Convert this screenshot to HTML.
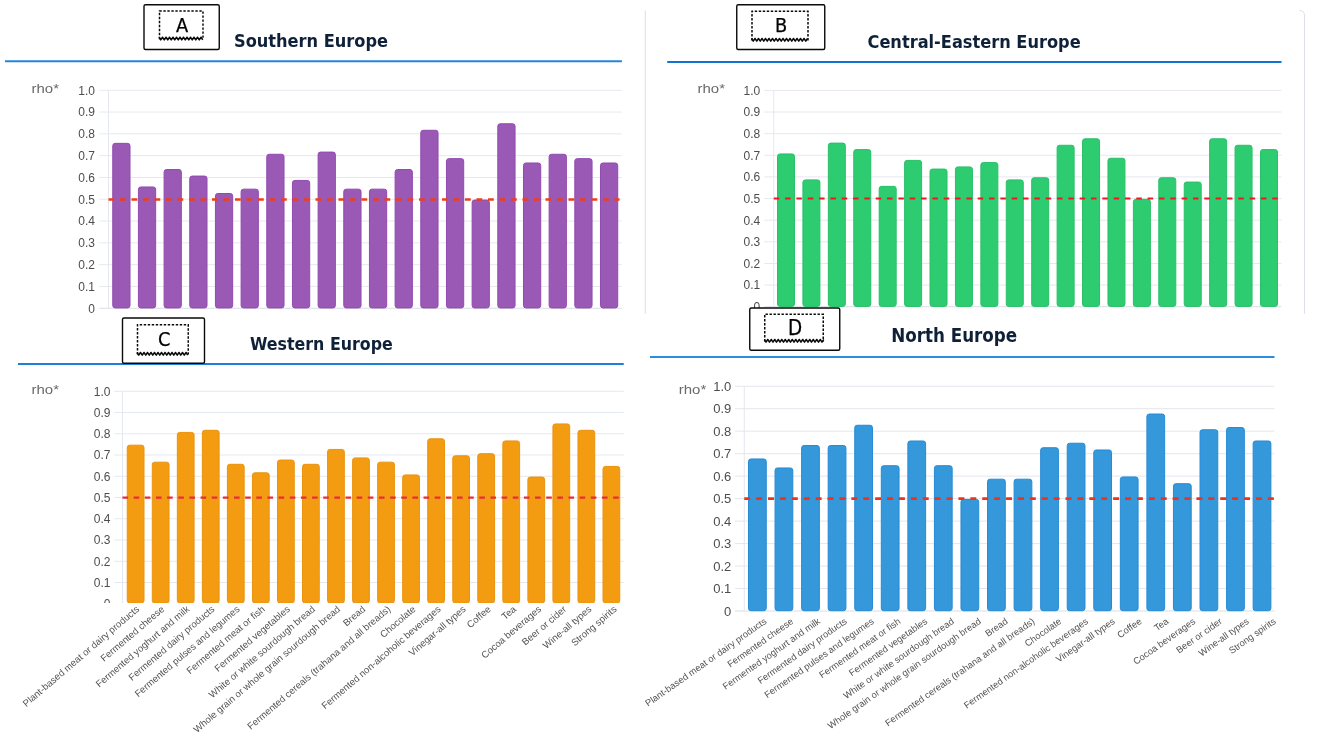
<!DOCTYPE html>
<html lang="en">
<head>
<meta charset="utf-8">
<title>Fermented foods rho* by European region</title>
<style>
html,body{margin:0;padding:0;background:#fff;}
body{width:1325px;height:736px;overflow:hidden;position:relative;}
svg{position:absolute;left:0;top:0;display:block;}
text{font-family:"Liberation Sans", Arial, Helvetica, sans-serif;}
.yl{fill:#4d4d4d;}
.xl{fill:#525252;}
.rho{fill:#6a6a6a;}
.tt{fill:#0f2138;font-weight:bold;font-family:"DejaVu Sans Condensed", "DejaVu Sans", "Liberation Sans", sans-serif;font-stretch:condensed;}
.bx{fill:#000;font-family:"DejaVu Sans Condensed", "DejaVu Sans", "Liberation Sans", sans-serif;font-stretch:condensed;}
</style>
</head>
<body>
<svg width="1325" height="736" viewBox="0 0 1325 736">
<rect x="0" y="0" width="1325" height="736" fill="#ffffff"/>
<path d="M645.25 10.5V313.75" stroke="#dadde6" stroke-width="1" fill="none"/>
<path d="M1299.5 10.5Q1304.5 10.5 1304.5 16V313.75" stroke="#dde0e8" stroke-width="1" fill="none"/>
<g id="chart-A">
<line x1="99.25" x2="621.75" y1="308.25" y2="308.25" stroke="#d9dde3" stroke-width="1"/>
<line x1="99.25" x2="621.75" y1="286.45" y2="286.45" stroke="#e5e9ee" stroke-width="1"/>
<line x1="99.25" x2="621.75" y1="264.65" y2="264.65" stroke="#e5e9ee" stroke-width="1"/>
<line x1="99.25" x2="621.75" y1="242.85" y2="242.85" stroke="#e5e9ee" stroke-width="1"/>
<line x1="99.25" x2="621.75" y1="221.05" y2="221.05" stroke="#e5e9ee" stroke-width="1"/>
<line x1="99.25" x2="621.75" y1="199.25" y2="199.25" stroke="#e5e9ee" stroke-width="1"/>
<line x1="99.25" x2="621.75" y1="177.45" y2="177.45" stroke="#e5e9ee" stroke-width="1"/>
<line x1="99.25" x2="621.75" y1="155.65" y2="155.65" stroke="#e5e9ee" stroke-width="1"/>
<line x1="99.25" x2="621.75" y1="133.85" y2="133.85" stroke="#e5e9ee" stroke-width="1"/>
<line x1="99.25" x2="621.75" y1="112.05" y2="112.05" stroke="#e5e9ee" stroke-width="1"/>
<line x1="99.25" x2="621.75" y1="90.25" y2="90.25" stroke="#e5e9ee" stroke-width="1"/>
<line x1="108.5" x2="108.5" y1="90.25" y2="308.25" stroke="#e5e9ee" stroke-width="1"/>
<text class="yl" x="95" y="312.57" font-size="12" text-anchor="end">0</text>
<text class="yl" x="95" y="290.77" font-size="12" text-anchor="end">0.1</text>
<text class="yl" x="95" y="268.97" font-size="12" text-anchor="end">0.2</text>
<text class="yl" x="95" y="247.17" font-size="12" text-anchor="end">0.3</text>
<text class="yl" x="95" y="225.37" font-size="12" text-anchor="end">0.4</text>
<text class="yl" x="95" y="203.57" font-size="12" text-anchor="end">0.5</text>
<text class="yl" x="95" y="181.77" font-size="12" text-anchor="end">0.6</text>
<text class="yl" x="95" y="159.97" font-size="12" text-anchor="end">0.7</text>
<text class="yl" x="95" y="138.17" font-size="12" text-anchor="end">0.8</text>
<text class="yl" x="95" y="116.37" font-size="12" text-anchor="end">0.9</text>
<text class="yl" x="95" y="94.57" font-size="12" text-anchor="end">1.0</text>
<rect x="112.75" y="143.37" width="17.25" height="164.58" rx="2.4" fill="#9b59b6" stroke="#904ab0" stroke-width="1"/>
<rect x="138.42" y="186.97" width="17.25" height="120.98" rx="2.4" fill="#9b59b6" stroke="#904ab0" stroke-width="1"/>
<rect x="164.09" y="169.53" width="17.25" height="138.42" rx="2.4" fill="#9b59b6" stroke="#904ab0" stroke-width="1"/>
<rect x="189.76" y="176.07" width="17.25" height="131.88" rx="2.4" fill="#9b59b6" stroke="#904ab0" stroke-width="1"/>
<rect x="215.43" y="193.51" width="17.25" height="114.44" rx="2.4" fill="#9b59b6" stroke="#904ab0" stroke-width="1"/>
<rect x="241.1" y="189.15" width="17.25" height="118.8" rx="2.4" fill="#9b59b6" stroke="#904ab0" stroke-width="1"/>
<rect x="266.77" y="154.27" width="17.25" height="153.68" rx="2.4" fill="#9b59b6" stroke="#904ab0" stroke-width="1"/>
<rect x="292.44" y="180.43" width="17.25" height="127.52" rx="2.4" fill="#9b59b6" stroke="#904ab0" stroke-width="1"/>
<rect x="318.11" y="152.09" width="17.25" height="155.86" rx="2.4" fill="#9b59b6" stroke="#904ab0" stroke-width="1"/>
<rect x="343.78" y="189.15" width="17.25" height="118.8" rx="2.4" fill="#9b59b6" stroke="#904ab0" stroke-width="1"/>
<rect x="369.45" y="189.15" width="17.25" height="118.8" rx="2.4" fill="#9b59b6" stroke="#904ab0" stroke-width="1"/>
<rect x="395.12" y="169.53" width="17.25" height="138.42" rx="2.4" fill="#9b59b6" stroke="#904ab0" stroke-width="1"/>
<rect x="420.79" y="130.29" width="17.25" height="177.66" rx="2.4" fill="#9b59b6" stroke="#904ab0" stroke-width="1"/>
<rect x="446.46" y="158.63" width="17.25" height="149.32" rx="2.4" fill="#9b59b6" stroke="#904ab0" stroke-width="1"/>
<rect x="472.13" y="200.05" width="17.25" height="107.9" rx="2.4" fill="#9b59b6" stroke="#904ab0" stroke-width="1"/>
<rect x="497.8" y="123.75" width="17.25" height="184.2" rx="2.4" fill="#9b59b6" stroke="#904ab0" stroke-width="1"/>
<rect x="523.47" y="162.99" width="17.25" height="144.96" rx="2.4" fill="#9b59b6" stroke="#904ab0" stroke-width="1"/>
<rect x="549.14" y="154.27" width="17.25" height="153.68" rx="2.4" fill="#9b59b6" stroke="#904ab0" stroke-width="1"/>
<rect x="574.81" y="158.63" width="17.25" height="149.32" rx="2.4" fill="#9b59b6" stroke="#904ab0" stroke-width="1"/>
<rect x="600.48" y="162.99" width="17.25" height="144.96" rx="2.4" fill="#9b59b6" stroke="#904ab0" stroke-width="1"/>
<line x1="108.5" x2="619.5" y1="199.5" y2="199.5" stroke="#ee3f17" stroke-width="2.4" stroke-dasharray="5.75 5.75"/>
<text class="rho" x="31.5" y="93.2" font-size="13" textLength="27.5" lengthAdjust="spacingAndGlyphs">rho*</text>
</g>
<g id="chart-B">
<line x1="764.4" x2="1281.5" y1="306.7" y2="306.7" stroke="#d9dde3" stroke-width="1"/>
<line x1="764.4" x2="1281.5" y1="285.07" y2="285.07" stroke="#e6e8f0" stroke-width="1"/>
<line x1="764.4" x2="1281.5" y1="263.44" y2="263.44" stroke="#e6e8f0" stroke-width="1"/>
<line x1="764.4" x2="1281.5" y1="241.81" y2="241.81" stroke="#e6e8f0" stroke-width="1"/>
<line x1="764.4" x2="1281.5" y1="220.18" y2="220.18" stroke="#e6e8f0" stroke-width="1"/>
<line x1="764.4" x2="1281.5" y1="198.55" y2="198.55" stroke="#e6e8f0" stroke-width="1"/>
<line x1="764.4" x2="1281.5" y1="176.92" y2="176.92" stroke="#e6e8f0" stroke-width="1"/>
<line x1="764.4" x2="1281.5" y1="155.29" y2="155.29" stroke="#e6e8f0" stroke-width="1"/>
<line x1="764.4" x2="1281.5" y1="133.66" y2="133.66" stroke="#e6e8f0" stroke-width="1"/>
<line x1="764.4" x2="1281.5" y1="112.03" y2="112.03" stroke="#e6e8f0" stroke-width="1"/>
<line x1="764.4" x2="1281.5" y1="90.4" y2="90.4" stroke="#e6e8f0" stroke-width="1"/>
<line x1="773.75" x2="773.75" y1="90.4" y2="306.7" stroke="#e6e8f0" stroke-width="1"/>
<text class="yl" x="760.2" y="311.02" font-size="12" text-anchor="end">0</text>
<text class="yl" x="760.2" y="289.39" font-size="12" text-anchor="end">0.1</text>
<text class="yl" x="760.2" y="267.76" font-size="12" text-anchor="end">0.2</text>
<text class="yl" x="760.2" y="246.13" font-size="12" text-anchor="end">0.3</text>
<text class="yl" x="760.2" y="224.5" font-size="12" text-anchor="end">0.4</text>
<text class="yl" x="760.2" y="202.87" font-size="12" text-anchor="end">0.5</text>
<text class="yl" x="760.2" y="181.24" font-size="12" text-anchor="end">0.6</text>
<text class="yl" x="760.2" y="159.61" font-size="12" text-anchor="end">0.7</text>
<text class="yl" x="760.2" y="137.98" font-size="12" text-anchor="end">0.8</text>
<text class="yl" x="760.2" y="116.35" font-size="12" text-anchor="end">0.9</text>
<text class="yl" x="760.2" y="94.72" font-size="12" text-anchor="end">1.0</text>
<rect x="777.5" y="153.93" width="17" height="152.47" rx="2.4" fill="#2ecc71" stroke="#29c068" stroke-width="1"/>
<rect x="802.92" y="179.88" width="17" height="126.52" rx="2.4" fill="#2ecc71" stroke="#29c068" stroke-width="1"/>
<rect x="828.34" y="143.11" width="17" height="163.29" rx="2.4" fill="#2ecc71" stroke="#29c068" stroke-width="1"/>
<rect x="853.76" y="149.6" width="17" height="156.8" rx="2.4" fill="#2ecc71" stroke="#29c068" stroke-width="1"/>
<rect x="879.18" y="186.37" width="17" height="120.03" rx="2.4" fill="#2ecc71" stroke="#29c068" stroke-width="1"/>
<rect x="904.6" y="160.42" width="17" height="145.98" rx="2.4" fill="#2ecc71" stroke="#29c068" stroke-width="1"/>
<rect x="930.02" y="169.07" width="17" height="137.33" rx="2.4" fill="#2ecc71" stroke="#29c068" stroke-width="1"/>
<rect x="955.44" y="166.91" width="17" height="139.49" rx="2.4" fill="#2ecc71" stroke="#29c068" stroke-width="1"/>
<rect x="980.86" y="162.58" width="17" height="143.82" rx="2.4" fill="#2ecc71" stroke="#29c068" stroke-width="1"/>
<rect x="1006.28" y="179.88" width="17" height="126.52" rx="2.4" fill="#2ecc71" stroke="#29c068" stroke-width="1"/>
<rect x="1031.7" y="177.72" width="17" height="128.68" rx="2.4" fill="#2ecc71" stroke="#29c068" stroke-width="1"/>
<rect x="1057.12" y="145.28" width="17" height="161.12" rx="2.4" fill="#2ecc71" stroke="#29c068" stroke-width="1"/>
<rect x="1082.54" y="138.79" width="17" height="167.61" rx="2.4" fill="#2ecc71" stroke="#29c068" stroke-width="1"/>
<rect x="1107.96" y="158.25" width="17" height="148.15" rx="2.4" fill="#2ecc71" stroke="#29c068" stroke-width="1"/>
<rect x="1133.38" y="199.35" width="17" height="107.05" rx="2.4" fill="#2ecc71" stroke="#29c068" stroke-width="1"/>
<rect x="1158.8" y="177.72" width="17" height="128.68" rx="2.4" fill="#2ecc71" stroke="#29c068" stroke-width="1"/>
<rect x="1184.22" y="182.05" width="17" height="124.35" rx="2.4" fill="#2ecc71" stroke="#29c068" stroke-width="1"/>
<rect x="1209.64" y="138.79" width="17" height="167.61" rx="2.4" fill="#2ecc71" stroke="#29c068" stroke-width="1"/>
<rect x="1235.06" y="145.28" width="17" height="161.12" rx="2.4" fill="#2ecc71" stroke="#29c068" stroke-width="1"/>
<rect x="1260.48" y="149.6" width="17" height="156.8" rx="2.4" fill="#2ecc71" stroke="#29c068" stroke-width="1"/>
<line x1="773.75" x2="1281.5" y1="198.4" y2="198.4" stroke="#f5161c" stroke-width="2.0" stroke-dasharray="5.5 5.83"/>
<text class="rho" x="697.5" y="93" font-size="13" textLength="27.5" lengthAdjust="spacingAndGlyphs">rho*</text>
</g>
<g id="chart-C">
<clipPath id="clipC"><rect x="0" y="0" width="1325" height="603.1"/></clipPath>
<g clip-path="url(#clipC)">
<line x1="114.25" x2="623.75" y1="603.75" y2="603.75" stroke="#d9dde3" stroke-width="1"/>
<line x1="114.25" x2="623.75" y1="582.5" y2="582.5" stroke="#e4e9f1" stroke-width="1"/>
<line x1="114.25" x2="623.75" y1="561.25" y2="561.25" stroke="#e4e9f1" stroke-width="1"/>
<line x1="114.25" x2="623.75" y1="540" y2="540" stroke="#e4e9f1" stroke-width="1"/>
<line x1="114.25" x2="623.75" y1="518.75" y2="518.75" stroke="#e4e9f1" stroke-width="1"/>
<line x1="114.25" x2="623.75" y1="497.5" y2="497.5" stroke="#e4e9f1" stroke-width="1"/>
<line x1="114.25" x2="623.75" y1="476.25" y2="476.25" stroke="#e4e9f1" stroke-width="1"/>
<line x1="114.25" x2="623.75" y1="455" y2="455" stroke="#e4e9f1" stroke-width="1"/>
<line x1="114.25" x2="623.75" y1="433.75" y2="433.75" stroke="#e4e9f1" stroke-width="1"/>
<line x1="114.25" x2="623.75" y1="412.5" y2="412.5" stroke="#e4e9f1" stroke-width="1"/>
<line x1="114.25" x2="623.75" y1="391.25" y2="391.25" stroke="#e4e9f1" stroke-width="1"/>
<line x1="122.5" x2="122.5" y1="391.25" y2="603.75" stroke="#e4e9f1" stroke-width="1"/>
<text class="yl" x="110.5" y="608.07" font-size="12" text-anchor="end">0</text>
<text class="yl" x="110.5" y="586.82" font-size="12" text-anchor="end">0.1</text>
<text class="yl" x="110.5" y="565.57" font-size="12" text-anchor="end">0.2</text>
<text class="yl" x="110.5" y="544.32" font-size="12" text-anchor="end">0.3</text>
<text class="yl" x="110.5" y="523.07" font-size="12" text-anchor="end">0.4</text>
<text class="yl" x="110.5" y="501.82" font-size="12" text-anchor="end">0.5</text>
<text class="yl" x="110.5" y="480.57" font-size="12" text-anchor="end">0.6</text>
<text class="yl" x="110.5" y="459.32" font-size="12" text-anchor="end">0.7</text>
<text class="yl" x="110.5" y="438.07" font-size="12" text-anchor="end">0.8</text>
<text class="yl" x="110.5" y="416.82" font-size="12" text-anchor="end">0.9</text>
<text class="yl" x="110.5" y="395.57" font-size="12" text-anchor="end">1.0</text>
<rect x="127.25" y="445.18" width="16.75" height="157.82" rx="2.4" fill="#f39c12" stroke="#ea930e" stroke-width="1"/>
<rect x="152.29" y="462.18" width="16.75" height="140.82" rx="2.4" fill="#f39c12" stroke="#ea930e" stroke-width="1"/>
<rect x="177.33" y="432.43" width="16.75" height="170.57" rx="2.4" fill="#f39c12" stroke="#ea930e" stroke-width="1"/>
<rect x="202.37" y="430.3" width="16.75" height="172.7" rx="2.4" fill="#f39c12" stroke="#ea930e" stroke-width="1"/>
<rect x="227.41" y="464.3" width="16.75" height="138.7" rx="2.4" fill="#f39c12" stroke="#ea930e" stroke-width="1"/>
<rect x="252.45" y="472.8" width="16.75" height="130.2" rx="2.4" fill="#f39c12" stroke="#ea930e" stroke-width="1"/>
<rect x="277.49" y="460.05" width="16.75" height="142.95" rx="2.4" fill="#f39c12" stroke="#ea930e" stroke-width="1"/>
<rect x="302.53" y="464.3" width="16.75" height="138.7" rx="2.4" fill="#f39c12" stroke="#ea930e" stroke-width="1"/>
<rect x="327.57" y="449.43" width="16.75" height="153.57" rx="2.4" fill="#f39c12" stroke="#ea930e" stroke-width="1"/>
<rect x="352.61" y="457.93" width="16.75" height="145.07" rx="2.4" fill="#f39c12" stroke="#ea930e" stroke-width="1"/>
<rect x="377.65" y="462.18" width="16.75" height="140.82" rx="2.4" fill="#f39c12" stroke="#ea930e" stroke-width="1"/>
<rect x="402.69" y="474.93" width="16.75" height="128.07" rx="2.4" fill="#f39c12" stroke="#ea930e" stroke-width="1"/>
<rect x="427.73" y="438.8" width="16.75" height="164.2" rx="2.4" fill="#f39c12" stroke="#ea930e" stroke-width="1"/>
<rect x="452.77" y="455.8" width="16.75" height="147.2" rx="2.4" fill="#f39c12" stroke="#ea930e" stroke-width="1"/>
<rect x="477.81" y="453.68" width="16.75" height="149.32" rx="2.4" fill="#f39c12" stroke="#ea930e" stroke-width="1"/>
<rect x="502.85" y="440.93" width="16.75" height="162.07" rx="2.4" fill="#f39c12" stroke="#ea930e" stroke-width="1"/>
<rect x="527.89" y="477.05" width="16.75" height="125.95" rx="2.4" fill="#f39c12" stroke="#ea930e" stroke-width="1"/>
<rect x="552.93" y="423.93" width="16.75" height="179.07" rx="2.4" fill="#f39c12" stroke="#ea930e" stroke-width="1"/>
<rect x="577.97" y="430.3" width="16.75" height="172.7" rx="2.4" fill="#f39c12" stroke="#ea930e" stroke-width="1"/>
<rect x="603.01" y="466.43" width="16.75" height="136.57" rx="2.4" fill="#f39c12" stroke="#ea930e" stroke-width="1"/>
<line x1="122.5" x2="623.75" y1="497.6" y2="497.6" stroke="#e72c3c" stroke-width="2.4" stroke-dasharray="5.6 5.55"/>
</g>
<text class="rho" x="31.5" y="394.25" font-size="13" textLength="27.5" lengthAdjust="spacingAndGlyphs">rho*</text>
<text class="xl" font-size="9.6" text-anchor="end" transform="translate(137.62 607.6) rotate(-40.5)" dy="0.35em">Plant-based meat or dairy products</text>
<text class="xl" font-size="9.6" text-anchor="end" transform="translate(162.75 607.6) rotate(-40.5)" dy="0.35em">Fermented cheese</text>
<text class="xl" font-size="9.6" text-anchor="end" transform="translate(187.88 607.6) rotate(-40.5)" dy="0.35em">Fermented yoghurt and milk</text>
<text class="xl" font-size="9.6" text-anchor="end" transform="translate(213.01 607.6) rotate(-40.5)" dy="0.35em">Fermented dairy products</text>
<text class="xl" font-size="9.6" text-anchor="end" transform="translate(238.14 607.6) rotate(-40.5)" dy="0.35em">Fermented pulses and legumes</text>
<text class="xl" font-size="9.6" text-anchor="end" transform="translate(263.27 607.6) rotate(-40.5)" dy="0.35em">Fermented meat or fish</text>
<text class="xl" font-size="9.6" text-anchor="end" transform="translate(288.4 607.6) rotate(-40.5)" dy="0.35em">Fermented vegetables</text>
<text class="xl" font-size="9.6" text-anchor="end" transform="translate(313.53 607.6) rotate(-40.5)" dy="0.35em">White or white sourdough bread</text>
<text class="xl" font-size="9.6" text-anchor="end" transform="translate(338.66 607.6) rotate(-40.5)" dy="0.35em">Whole grain or whole grain sourdough bread</text>
<text class="xl" font-size="9.6" text-anchor="end" transform="translate(363.79 607.6) rotate(-40.5)" dy="0.35em">Bread</text>
<text class="xl" font-size="9.6" text-anchor="end" transform="translate(388.92 607.6) rotate(-40.5)" dy="0.35em">Fermented cereals (trahana and all breads)</text>
<text class="xl" font-size="9.6" text-anchor="end" transform="translate(414.06 607.6) rotate(-40.5)" dy="0.35em">Chocolate</text>
<text class="xl" font-size="9.6" text-anchor="end" transform="translate(439.19 607.6) rotate(-40.5)" dy="0.35em">Fermented non-alcoholic beverages</text>
<text class="xl" font-size="9.6" text-anchor="end" transform="translate(464.31 607.6) rotate(-40.5)" dy="0.35em">Vinegar-all types</text>
<text class="xl" font-size="9.6" text-anchor="end" transform="translate(489.44 607.6) rotate(-40.5)" dy="0.35em">Coffee</text>
<text class="xl" font-size="9.6" text-anchor="end" transform="translate(514.58 607.6) rotate(-40.5)" dy="0.35em">Tea</text>
<text class="xl" font-size="9.6" text-anchor="end" transform="translate(539.7 607.6) rotate(-40.5)" dy="0.35em">Cocoa beverages</text>
<text class="xl" font-size="9.6" text-anchor="end" transform="translate(564.84 607.6) rotate(-40.5)" dy="0.35em">Beer or cider</text>
<text class="xl" font-size="9.6" text-anchor="end" transform="translate(589.96 607.6) rotate(-40.5)" dy="0.35em">Wine-all types</text>
<text class="xl" font-size="9.6" text-anchor="end" transform="translate(615.1 607.6) rotate(-40.5)" dy="0.35em">Strong spirits</text>
</g>
<g id="chart-D">
<line x1="735" x2="1274.5" y1="611" y2="611" stroke="#d9dde3" stroke-width="1"/>
<line x1="735" x2="1274.5" y1="588.52" y2="588.52" stroke="#e3e6ee" stroke-width="1"/>
<line x1="735" x2="1274.5" y1="566.05" y2="566.05" stroke="#e3e6ee" stroke-width="1"/>
<line x1="735" x2="1274.5" y1="543.58" y2="543.58" stroke="#e3e6ee" stroke-width="1"/>
<line x1="735" x2="1274.5" y1="521.1" y2="521.1" stroke="#e3e6ee" stroke-width="1"/>
<line x1="735" x2="1274.5" y1="498.62" y2="498.62" stroke="#e3e6ee" stroke-width="1"/>
<line x1="735" x2="1274.5" y1="476.15" y2="476.15" stroke="#e3e6ee" stroke-width="1"/>
<line x1="735" x2="1274.5" y1="453.68" y2="453.68" stroke="#e3e6ee" stroke-width="1"/>
<line x1="735" x2="1274.5" y1="431.2" y2="431.2" stroke="#e3e6ee" stroke-width="1"/>
<line x1="735" x2="1274.5" y1="408.73" y2="408.73" stroke="#e3e6ee" stroke-width="1"/>
<line x1="735" x2="1274.5" y1="386.25" y2="386.25" stroke="#e3e6ee" stroke-width="1"/>
<line x1="744.25" x2="744.25" y1="386.25" y2="611" stroke="#e3e6ee" stroke-width="1"/>
<text class="yl" x="731.25" y="615.68" font-size="13" text-anchor="end">0</text>
<text class="yl" x="731.25" y="593.2" font-size="13" text-anchor="end">0.1</text>
<text class="yl" x="731.25" y="570.73" font-size="13" text-anchor="end">0.2</text>
<text class="yl" x="731.25" y="548.25" font-size="13" text-anchor="end">0.3</text>
<text class="yl" x="731.25" y="525.78" font-size="13" text-anchor="end">0.4</text>
<text class="yl" x="731.25" y="503.31" font-size="13" text-anchor="end">0.5</text>
<text class="yl" x="731.25" y="480.83" font-size="13" text-anchor="end">0.6</text>
<text class="yl" x="731.25" y="458.36" font-size="13" text-anchor="end">0.7</text>
<text class="yl" x="731.25" y="435.88" font-size="13" text-anchor="end">0.8</text>
<text class="yl" x="731.25" y="413.41" font-size="13" text-anchor="end">0.9</text>
<text class="yl" x="731.25" y="390.93" font-size="13" text-anchor="end">1.0</text>
<rect x="748.5" y="458.97" width="17.75" height="151.73" rx="2.4" fill="#3498db" stroke="#258bd6" stroke-width="1"/>
<rect x="775.06" y="467.96" width="17.75" height="142.74" rx="2.4" fill="#3498db" stroke="#258bd6" stroke-width="1"/>
<rect x="801.62" y="445.49" width="17.75" height="165.22" rx="2.4" fill="#3498db" stroke="#258bd6" stroke-width="1"/>
<rect x="828.18" y="445.49" width="17.75" height="165.22" rx="2.4" fill="#3498db" stroke="#258bd6" stroke-width="1"/>
<rect x="854.74" y="425.26" width="17.75" height="185.44" rx="2.4" fill="#3498db" stroke="#258bd6" stroke-width="1"/>
<rect x="881.3" y="465.71" width="17.75" height="144.99" rx="2.4" fill="#3498db" stroke="#258bd6" stroke-width="1"/>
<rect x="907.86" y="440.99" width="17.75" height="169.71" rx="2.4" fill="#3498db" stroke="#258bd6" stroke-width="1"/>
<rect x="934.42" y="465.71" width="17.75" height="144.99" rx="2.4" fill="#3498db" stroke="#258bd6" stroke-width="1"/>
<rect x="960.98" y="499.43" width="17.75" height="111.28" rx="2.4" fill="#3498db" stroke="#258bd6" stroke-width="1"/>
<rect x="987.54" y="479.2" width="17.75" height="131.5" rx="2.4" fill="#3498db" stroke="#258bd6" stroke-width="1"/>
<rect x="1014.1" y="479.2" width="17.75" height="131.5" rx="2.4" fill="#3498db" stroke="#258bd6" stroke-width="1"/>
<rect x="1040.66" y="447.73" width="17.75" height="162.97" rx="2.4" fill="#3498db" stroke="#258bd6" stroke-width="1"/>
<rect x="1067.22" y="443.24" width="17.75" height="167.46" rx="2.4" fill="#3498db" stroke="#258bd6" stroke-width="1"/>
<rect x="1093.78" y="449.98" width="17.75" height="160.72" rx="2.4" fill="#3498db" stroke="#258bd6" stroke-width="1"/>
<rect x="1120.34" y="476.95" width="17.75" height="133.75" rx="2.4" fill="#3498db" stroke="#258bd6" stroke-width="1"/>
<rect x="1146.9" y="414.02" width="17.75" height="196.68" rx="2.4" fill="#3498db" stroke="#258bd6" stroke-width="1"/>
<rect x="1173.46" y="483.69" width="17.75" height="127.01" rx="2.4" fill="#3498db" stroke="#258bd6" stroke-width="1"/>
<rect x="1200.02" y="429.75" width="17.75" height="180.95" rx="2.4" fill="#3498db" stroke="#258bd6" stroke-width="1"/>
<rect x="1226.58" y="427.51" width="17.75" height="183.19" rx="2.4" fill="#3498db" stroke="#258bd6" stroke-width="1"/>
<rect x="1253.14" y="440.99" width="17.75" height="169.71" rx="2.4" fill="#3498db" stroke="#258bd6" stroke-width="1"/>
<line x1="744.25" x2="1274.5" y1="498.6" y2="498.6" stroke="#ef321a" stroke-width="2.7" stroke-dasharray="5.95 5.95"/>
<text class="rho" x="678.75" y="393.75" font-size="13" textLength="27.5" lengthAdjust="spacingAndGlyphs">rho*</text>
<text class="xl" font-size="9.4" text-anchor="end" transform="translate(765.38 620) rotate(-35.2)" dy="0.35em">Plant-based meat or dairy products</text>
<text class="xl" font-size="9.4" text-anchor="end" transform="translate(792.17 620) rotate(-35.2)" dy="0.35em">Fermented cheese</text>
<text class="xl" font-size="9.4" text-anchor="end" transform="translate(818.98 620) rotate(-35.2)" dy="0.35em">Fermented yoghurt and milk</text>
<text class="xl" font-size="9.4" text-anchor="end" transform="translate(845.77 620) rotate(-35.2)" dy="0.35em">Fermented dairy products</text>
<text class="xl" font-size="9.4" text-anchor="end" transform="translate(872.58 620) rotate(-35.2)" dy="0.35em">Fermented pulses and legumes</text>
<text class="xl" font-size="9.4" text-anchor="end" transform="translate(899.38 620) rotate(-35.2)" dy="0.35em">Fermented meat or fish</text>
<text class="xl" font-size="9.4" text-anchor="end" transform="translate(926.17 620) rotate(-35.2)" dy="0.35em">Fermented vegetables</text>
<text class="xl" font-size="9.4" text-anchor="end" transform="translate(952.98 620) rotate(-35.2)" dy="0.35em">White or white sourdough bread</text>
<text class="xl" font-size="9.4" text-anchor="end" transform="translate(979.77 620) rotate(-35.2)" dy="0.35em">Whole grain or whole grain sourdough bread</text>
<text class="xl" font-size="9.4" text-anchor="end" transform="translate(1006.58 620) rotate(-35.2)" dy="0.35em">Bread</text>
<text class="xl" font-size="9.4" text-anchor="end" transform="translate(1033.38 620) rotate(-35.2)" dy="0.35em">Fermented cereals (trahana and all breads)</text>
<text class="xl" font-size="9.4" text-anchor="end" transform="translate(1060.17 620) rotate(-35.2)" dy="0.35em">Chocolate</text>
<text class="xl" font-size="9.4" text-anchor="end" transform="translate(1086.97 620) rotate(-35.2)" dy="0.35em">Fermented non-alcoholic beverages</text>
<text class="xl" font-size="9.4" text-anchor="end" transform="translate(1113.78 620) rotate(-35.2)" dy="0.35em">Vinegar-all types</text>
<text class="xl" font-size="9.4" text-anchor="end" transform="translate(1140.58 620) rotate(-35.2)" dy="0.35em">Coffee</text>
<text class="xl" font-size="9.4" text-anchor="end" transform="translate(1167.38 620) rotate(-35.2)" dy="0.35em">Tea</text>
<text class="xl" font-size="9.4" text-anchor="end" transform="translate(1194.17 620) rotate(-35.2)" dy="0.35em">Cocoa beverages</text>
<text class="xl" font-size="9.4" text-anchor="end" transform="translate(1220.97 620) rotate(-35.2)" dy="0.35em">Beer or cider</text>
<text class="xl" font-size="9.4" text-anchor="end" transform="translate(1247.78 620) rotate(-35.2)" dy="0.35em">Wine-all types</text>
<text class="xl" font-size="9.4" text-anchor="end" transform="translate(1274.58 620) rotate(-35.2)" dy="0.35em">Strong spirits</text>
</g>
<g id="head-A">
<line x1="5" x2="621.9" y1="61.25" y2="61.25" stroke="#2585d6" stroke-width="2"/>
<rect x="144" y="4.75" width="75.25" height="44.75" rx="1.5" fill="#fff" stroke="#0a0a0a" stroke-width="1.4"/>
<path d="M159.5 39.25V11.1H203V39.25" fill="none" stroke="#0a0a0a" stroke-width="1.5" stroke-dasharray="2.4 1.6"/>
<path d="M159 37.25 L160.75 39.95 L162.5 37.25 L164.25 39.95 L166 37.25 L167.75 39.95 L169.5 37.25 L171.25 39.95 L173 37.25 L174.75 39.95 L176.5 37.25 L178.25 39.95 L180 37.25 L181.75 39.95 L183.5 37.25 L185.25 39.95 L187 37.25 L188.75 39.95 L190.5 37.25 L192.25 39.95 L194 37.25 L195.75 39.95 L197.5 37.25 L199.25 39.95 L201 37.25 L202.75 39.95" fill="none" stroke="#0a0a0a" stroke-width="1.5" stroke-linejoin="round"/>
<text class="bx" x="182.2" y="31.7" font-size="19.8" text-anchor="middle" stroke="#000" stroke-width="0.25">A</text>
<text class="tt" x="234" y="47.3" font-size="18">Southern Europe</text>
</g>
<g id="head-B">
<line x1="667.25" x2="1281.5" y1="62" y2="62" stroke="#0f74d1" stroke-width="2"/>
<rect x="736.75" y="4.75" width="88" height="44.75" rx="1.5" fill="#fff" stroke="#0a0a0a" stroke-width="1.4"/>
<path d="M752 40.5V11.25H808V40.5" fill="none" stroke="#0a0a0a" stroke-width="1.5" stroke-dasharray="2.4 1.6"/>
<path d="M751.5 38.5 L753.25 41.2 L755 38.5 L756.75 41.2 L758.5 38.5 L760.25 41.2 L762 38.5 L763.75 41.2 L765.5 38.5 L767.25 41.2 L769 38.5 L770.75 41.2 L772.5 38.5 L774.25 41.2 L776 38.5 L777.75 41.2 L779.5 38.5 L781.25 41.2 L783 38.5 L784.75 41.2 L786.5 38.5 L788.25 41.2 L790 38.5 L791.75 41.2 L793.5 38.5 L795.25 41.2 L797 38.5 L798.75 41.2 L800.5 38.5 L802.25 41.2 L804 38.5 L805.75 41.2 L807.5 38.5" fill="none" stroke="#0a0a0a" stroke-width="1.5" stroke-linejoin="round"/>
<text class="bx" x="781" y="31.75" font-size="19.8" text-anchor="middle" stroke="#000" stroke-width="0.25">B</text>
<text class="tt" x="867.5" y="48.3" font-size="18">Central-Eastern Europe</text>
</g>
<g id="head-C">
<line x1="18" x2="623.75" y1="364" y2="364" stroke="#1d80d8" stroke-width="2"/>
<rect x="122.5" y="318" width="82" height="45.25" rx="1.5" fill="#fff" stroke="#0a0a0a" stroke-width="1.4"/>
<path d="M137.5 354.5V324.75H188.25V354.5" fill="none" stroke="#0a0a0a" stroke-width="1.5" stroke-dasharray="2.4 1.6"/>
<path d="M137 352.5 L138.75 355.2 L140.5 352.5 L142.25 355.2 L144 352.5 L145.75 355.2 L147.5 352.5 L149.25 355.2 L151 352.5 L152.75 355.2 L154.5 352.5 L156.25 355.2 L158 352.5 L159.75 355.2 L161.5 352.5 L163.25 355.2 L165 352.5 L166.75 355.2 L168.5 352.5 L170.25 355.2 L172 352.5 L173.75 355.2 L175.5 352.5 L177.25 355.2 L179 352.5 L180.75 355.2 L182.5 352.5 L184.25 355.2 L186 352.5 L187.75 355.2" fill="none" stroke="#0a0a0a" stroke-width="1.5" stroke-linejoin="round"/>
<text class="bx" x="164.25" y="346.25" font-size="19.8" text-anchor="middle" stroke="#000" stroke-width="0.25">C</text>
<text class="tt" x="250" y="350" font-size="17.6">Western Europe</text>
</g>
<g id="head-D">
<line x1="650" x2="1274.5" y1="356.9" y2="356.9" stroke="#2b8de0" stroke-width="2"/>
<rect x="749.75" y="308" width="90" height="42.25" rx="1.5" fill="#fff" stroke="#0a0a0a" stroke-width="1.4"/>
<path d="M764.75 341.5V314.25H823.25V341.5" fill="none" stroke="#0a0a0a" stroke-width="1.5" stroke-dasharray="2.4 1.6"/>
<path d="M764.25 339.5 L766 342.2 L767.75 339.5 L769.5 342.2 L771.25 339.5 L773 342.2 L774.75 339.5 L776.5 342.2 L778.25 339.5 L780 342.2 L781.75 339.5 L783.5 342.2 L785.25 339.5 L787 342.2 L788.75 339.5 L790.5 342.2 L792.25 339.5 L794 342.2 L795.75 339.5 L797.5 342.2 L799.25 339.5 L801 342.2 L802.75 339.5 L804.5 342.2 L806.25 339.5 L808 342.2 L809.75 339.5 L811.5 342.2 L813.25 339.5 L815 342.2 L816.75 339.5 L818.5 342.2 L820.25 339.5 L822 342.2 L823.75 339.5" fill="none" stroke="#0a0a0a" stroke-width="1.5" stroke-linejoin="round"/>
<text class="bx" x="795" y="334.5" font-size="20.5" text-anchor="middle" stroke="#000" stroke-width="0.25">D</text>
<text class="tt" x="891.25" y="342" font-size="18.6">North Europe</text>
</g>
</svg>
</body>
</html>
